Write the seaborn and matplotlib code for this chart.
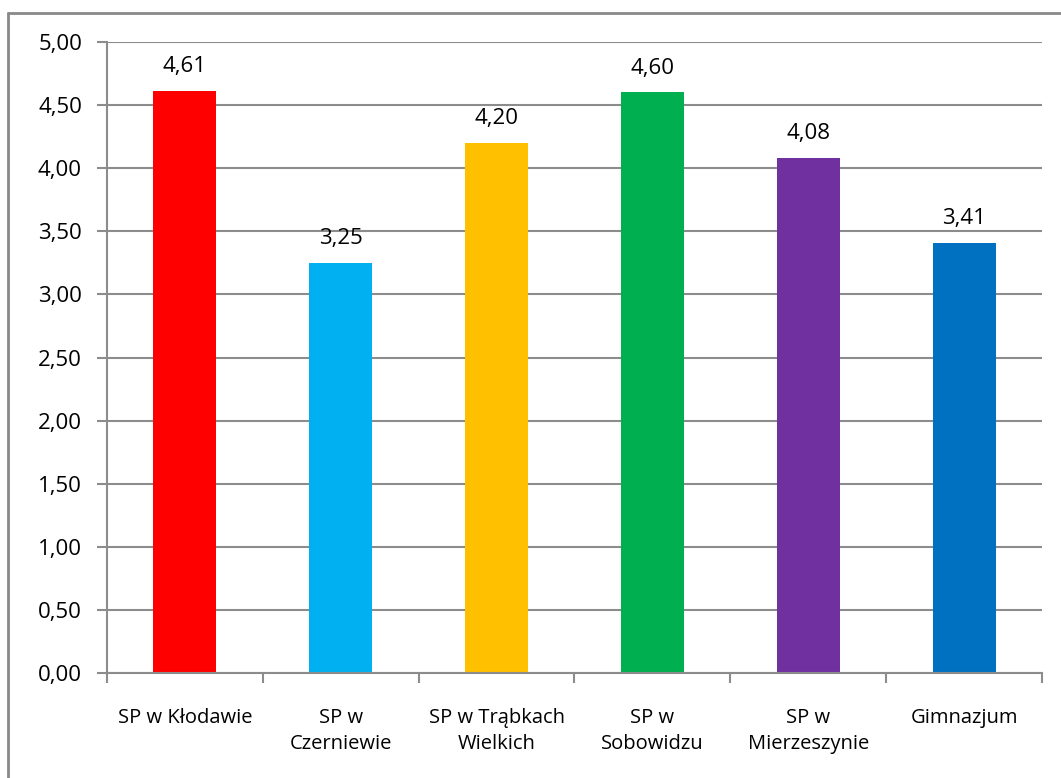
import matplotlib
matplotlib.use("Agg")
import matplotlib.pyplot as plt
import seaborn as sns
import pandas as pd
from matplotlib.lines import Line2D

categories = ["SP w Kłodawie", "SP w\nCzerniewie", "SP w Trąbkach\nWielkich",
              "SP w\nSobowidzu", "SP w\nMierzeszynie", "Gimnazjum"]
values = [4.61, 3.25, 4.20, 4.60, 4.08, 3.41]
colors = ["#FF0000", "#00B0F0", "#FFC000", "#00B050", "#7030A0", "#0070C0"]
yticks = [0.0, 0.5, 1.0, 1.5, 2.0, 2.5, 3.0, 3.5, 4.0, 4.5, 5.0]

sns.set_style("white")
plt.rcParams['font.family'] = ['Open Sans', 'DejaVu Sans']
plt.rcParams['text.color'] = 'black'
plt.rcParams['xtick.labelcolor'] = 'black'
plt.rcParams['ytick.labelcolor'] = 'black'

W, H = 1061, 778
fig = plt.figure(figsize=(W / 100, H / 100), dpi=100)
ax = fig.add_axes([107 / W, 1 - 673 / H, (1042 - 107) / W, (673 - 42) / H])

df = pd.DataFrame({"cat": categories, "val": values})
sns.barplot(data=df, x="cat", y="val", hue="cat", palette=colors, width=0.405,
            legend=False, ax=ax, saturation=1, linewidth=0)

grid_c = "#8C8C8C"
ax.set_ylim(0, 5)
ax.set_xlim(-0.5, len(categories) - 0.5)
ax.set_yticks(yticks)
ax.set_yticklabels([f"{t:.2f}".replace(".", ",") for t in yticks], fontsize=16, color="black")
ax.yaxis.grid(True, color=grid_c, linewidth=1.5)
ax.set_axisbelow(True)
ax.tick_params(axis="y", length=7, width=1.5, color=grid_c, pad=11, left=True)

ax.set_xticks(range(len(categories)))
ax.set_xticklabels(categories, fontsize=14.5, linespacing=1.45, color="black")
ax.tick_params(axis="x", which="major", length=0, pad=25)
ax.set_xticks([i - 0.5 for i in range(len(categories) + 1)], minor=True)
ax.tick_params(axis="x", which="minor", length=7, width=1.5, color=grid_c, bottom=True)
ax.set_xlabel("")
ax.set_ylabel("")

for s in ["top", "right"]:
    ax.spines[s].set_visible(False)
for s in ["left", "bottom"]:
    ax.spines[s].set_color(grid_c)
    ax.spines[s].set_linewidth(1.5)

for p, v in zip(ax.patches, values):
    ax.annotate(f"{v:.2f}".replace(".", ","), (p.get_x() + p.get_width() / 2, p.get_height()),
                xytext=(0, 10), textcoords="offset points", ha="center", va="bottom",
                fontsize=16, color="black")

# figure border (left and top visible)
bx, by = 8 / W, 1 - 13 / H
fig.add_artist(Line2D([bx, bx], [by, 0], transform=fig.transFigure, color="#898989", linewidth=2))
fig.add_artist(Line2D([bx, 1], [by, by], transform=fig.transFigure, color="#898989", linewidth=2))

fig.savefig("out.png", dpi=100)
